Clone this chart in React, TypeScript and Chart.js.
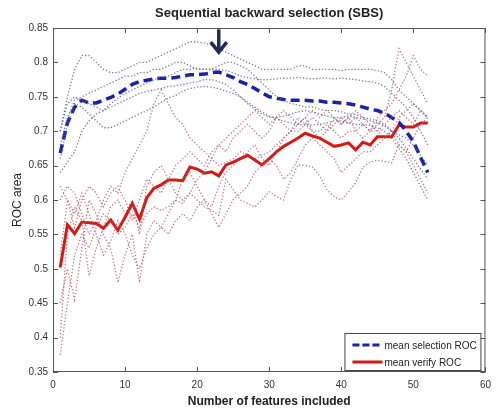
import React, { useEffect, useRef } from 'react';
import { Chart, registerables } from 'chart.js';

Chart.register(...registerables);

const features = [1, 2, 3, 4, 5, 6, 7, 8, 9, 10, 11, 12, 13, 14, 15, 16, 17, 18, 19, 20, 21, 22, 23, 24, 25, 26, 27, 28, 29, 30, 31, 32, 33, 34, 35, 36, 37, 38, 39, 40, 41, 42, 43, 44, 45, 46, 47, 48, 49, 50, 51, 52];

const meanSelection = [0.668, 0.712, 0.735, 0.745, 0.741, 0.741, 0.745, 0.749, 0.754, 0.761, 0.768, 0.772, 0.774, 0.776, 0.777, 0.777, 0.778, 0.78, 0.782, 0.782, 0.783, 0.785, 0.786, 0.782, 0.778, 0.772, 0.768, 0.762, 0.756, 0.75, 0.748, 0.746, 0.745, 0.745, 0.745, 0.744, 0.744, 0.742, 0.742, 0.741, 0.74, 0.738, 0.735, 0.732, 0.73, 0.726, 0.72, 0.713, 0.7, 0.685, 0.662, 0.64];

const meanVerify = [0.502, 0.564, 0.551, 0.568, 0.567, 0.566, 0.559, 0.571, 0.556, 0.575, 0.595, 0.572, 0.603, 0.617, 0.622, 0.629, 0.629, 0.628, 0.648, 0.645, 0.639, 0.641, 0.635, 0.651, 0.655, 0.66, 0.665, 0.658, 0.651, 0.66, 0.67, 0.678, 0.684, 0.69, 0.697, 0.693, 0.69, 0.684, 0.678, 0.68, 0.683, 0.673, 0.684, 0.68, 0.692, 0.692, 0.692, 0.709, 0.706, 0.706, 0.712, 0.712];

const selection1 = [0.7, 0.75, 0.79, 0.81, 0.81, 0.8, 0.79, 0.785, 0.785, 0.79, 0.795, 0.8, 0.8, 0.805, 0.81, 0.815, 0.82, 0.825, 0.83, 0.83, 0.828, 0.825, 0.82, 0.815, 0.81, 0.805, 0.8, 0.795, 0.79, 0.79, 0.79, 0.79, 0.79, 0.795, 0.795, 0.79, 0.79, 0.79, 0.79, 0.788, 0.79, 0.79, 0.79, 0.79, 0.788, 0.785, 0.775, 0.76, 0.75, 0.74, 0.73, 0.72];
const selection2 = [0.68, 0.72, 0.745, 0.75, 0.755, 0.76, 0.765, 0.77, 0.775, 0.78, 0.78, 0.785, 0.785, 0.79, 0.79, 0.795, 0.8, 0.8, 0.795, 0.79, 0.79, 0.79, 0.79, 0.788, 0.785, 0.78, 0.778, 0.776, 0.775, 0.775, 0.776, 0.777, 0.777, 0.778, 0.777, 0.776, 0.777, 0.777, 0.776, 0.777, 0.776, 0.775, 0.773, 0.772, 0.77, 0.765, 0.755, 0.745, 0.735, 0.72, 0.7, 0.68];
const selection3 = [0.66, 0.71, 0.74, 0.735, 0.725, 0.715, 0.705, 0.705, 0.71, 0.715, 0.72, 0.725, 0.73, 0.735, 0.742, 0.748, 0.752, 0.758, 0.762, 0.764, 0.765, 0.764, 0.762, 0.758, 0.755, 0.75, 0.742, 0.735, 0.728, 0.722, 0.718, 0.715, 0.712, 0.71, 0.709, 0.709, 0.71, 0.712, 0.715, 0.715, 0.712, 0.71, 0.71, 0.708, 0.705, 0.7, 0.69, 0.675, 0.66, 0.64, 0.62, 0.6];
const selection4 = [0.64, 0.655, 0.67, 0.7, 0.715, 0.725, 0.73, 0.74, 0.748, 0.755, 0.76, 0.765, 0.77, 0.775, 0.778, 0.78, 0.785, 0.79, 0.79, 0.792, 0.79, 0.79, 0.795, 0.8, 0.8, 0.795, 0.79, 0.78, 0.77, 0.76, 0.75, 0.745, 0.74, 0.738, 0.735, 0.735, 0.732, 0.73, 0.73, 0.728, 0.725, 0.724, 0.72, 0.718, 0.715, 0.71, 0.7, 0.69, 0.675, 0.66, 0.645, 0.63];
const selection5 = [0.7, 0.74, 0.75, 0.745, 0.74, 0.735, 0.73, 0.735, 0.74, 0.745, 0.75, 0.755, 0.758, 0.76, 0.762, 0.765, 0.766, 0.768, 0.77, 0.772, 0.775, 0.775, 0.772, 0.768, 0.76, 0.75, 0.74, 0.732, 0.725, 0.72, 0.72, 0.722, 0.725, 0.728, 0.73, 0.728, 0.725, 0.722, 0.72, 0.72, 0.722, 0.72, 0.718, 0.715, 0.712, 0.708, 0.7, 0.695, 0.69, 0.68, 0.665, 0.65];

const verify1 = [0.375, 0.45, 0.52, 0.55, 0.53, 0.56, 0.58, 0.57, 0.55, 0.56, 0.58, 0.56, 0.58, 0.59, 0.585, 0.59, 0.6, 0.595, 0.61, 0.6, 0.59, 0.585, 0.578, 0.63, 0.615, 0.6, 0.595, 0.59, 0.6, 0.612, 0.605, 0.6, 0.63, 0.651, 0.65, 0.648, 0.635, 0.615, 0.605, 0.6, 0.612, 0.625, 0.648, 0.655, 0.658, 0.656, 0.654, 0.68, 0.67, 0.65, 0.63, 0.61];
const verify2 = [0.45, 0.5, 0.455, 0.53, 0.6, 0.58, 0.55, 0.53, 0.48, 0.52, 0.55, 0.48, 0.55, 0.57, 0.56, 0.58, 0.6, 0.63, 0.64, 0.62, 0.6, 0.59, 0.62, 0.64, 0.65, 0.66, 0.67, 0.68, 0.66, 0.65, 0.67, 0.69, 0.7, 0.7, 0.71, 0.7, 0.7, 0.71, 0.7, 0.69, 0.7, 0.7, 0.71, 0.7, 0.7, 0.71, 0.72, 0.73, 0.72, 0.71, 0.73, 0.72];
const verify3 = [0.6, 0.62, 0.61, 0.58, 0.55, 0.57, 0.6, 0.62, 0.61, 0.64, 0.66, 0.68, 0.7, 0.74, 0.76, 0.74, 0.72, 0.71, 0.69, 0.68, 0.67, 0.66, 0.65, 0.655, 0.66, 0.67, 0.665, 0.66, 0.665, 0.67, 0.68, 0.69, 0.7, 0.71, 0.72, 0.7, 0.69, 0.7, 0.71, 0.72, 0.71, 0.72, 0.71, 0.7, 0.71, 0.72, 0.76, 0.82, 0.8, 0.78, 0.76, 0.74];
const verify4 = [0.4, 0.55, 0.59, 0.57, 0.49, 0.53, 0.56, 0.59, 0.6, 0.58, 0.6, 0.55, 0.62, 0.64, 0.65, 0.63, 0.61, 0.6, 0.61, 0.63, 0.64, 0.66, 0.68, 0.67, 0.69, 0.7, 0.71, 0.7, 0.69, 0.7, 0.72, 0.71, 0.7, 0.72, 0.71, 0.72, 0.71, 0.7, 0.72, 0.71, 0.72, 0.7, 0.69, 0.7, 0.72, 0.73, 0.74, 0.76, 0.78, 0.81, 0.79, 0.78];
const verify5 = [0.52, 0.6, 0.58, 0.61, 0.58, 0.55, 0.52, 0.54, 0.57, 0.55, 0.52, 0.5, 0.53, 0.55, 0.56, 0.55, 0.57, 0.58, 0.57, 0.59, 0.6, 0.58, 0.56, 0.58, 0.6, 0.61, 0.62, 0.64, 0.65, 0.66, 0.65, 0.63, 0.64, 0.66, 0.68, 0.69, 0.68, 0.67, 0.66, 0.64, 0.65, 0.66, 0.67, 0.67, 0.68, 0.69, 0.7, 0.72, 0.73, 0.74, 0.73, 0.72];
const verify6 = [0.62, 0.6, 0.56, 0.6, 0.62, 0.61, 0.59, 0.61, 0.62, 0.6, 0.57, 0.6, 0.63, 0.62, 0.61, 0.63, 0.65, 0.66, 0.67, 0.66, 0.65, 0.67, 0.68, 0.69, 0.7, 0.71, 0.72, 0.73, 0.72, 0.71, 0.72, 0.73, 0.72, 0.71, 0.72, 0.73, 0.72, 0.73, 0.72, 0.71, 0.72, 0.73, 0.72, 0.71, 0.7, 0.69, 0.7, 0.68, 0.67, 0.69, 0.71, 0.72];

const selectionFolds = [selection1, selection2, selection3, selection4, selection5];
const verifyFolds = [verify1, verify2, verify3, verify4, verify5, verify6];

const xTicks = [0, 10, 20, 30, 40, 50, 60];
const yTicks = [0.35, 0.4, 0.45, 0.5, 0.55, 0.6, 0.65, 0.7, 0.75, 0.8, 0.85];

const titleText = 'Sequential backward selection (SBS)';
const xTitle = 'Number of features included';
const yTitle = 'ROC area';
const legendLabels = ['mean selection ROC', 'mean verify ROC'];
const arrowFeature = 23;
const arrowTop = 0.848;
const arrowTip = 0.812;

const FONT = '"Liberation Sans", Arial, Helvetica, sans-serif';
const BLUE = '#1c22a6';
const RED = '#d41a14';

const toPoints = (vals: number[]) => vals.map((v, i) => ({ x: features[i], y: v }));

const decor = {
  id: 'decor',
  afterDraw(chart: any) {
    const { ctx, chartArea: a, scales } = chart;
    const xs = scales.x;
    const ys = scales.y;
    ctx.save();
    ctx.strokeStyle = '#555';
    ctx.lineWidth = 1;
    ctx.strokeRect(a.left + 0.5, a.top + 0.5, a.right - a.left - 1, a.bottom - a.top - 1);
    ctx.beginPath();
    xTicks.forEach((t) => {
      const px = Math.round(xs.getPixelForValue(t)) + 0.5;
      ctx.moveTo(px, a.bottom);
      ctx.lineTo(px, a.bottom - 5);
      ctx.moveTo(px, a.top);
      ctx.lineTo(px, a.top + 5);
    });
    yTicks.forEach((t) => {
      const py = Math.round(ys.getPixelForValue(t)) + 0.5;
      ctx.moveTo(a.left, py);
      ctx.lineTo(a.left + 5, py);
      ctx.moveTo(a.right, py);
      ctx.lineTo(a.right - 5, py);
    });
    ctx.stroke();

    ctx.fillStyle = '#222';
    ctx.textAlign = 'center';
    ctx.textBaseline = 'middle';
    ctx.font = `bold 13px ${FONT}`;
    ctx.fillText(titleText, (a.left + a.right) / 2, 13);
    ctx.font = `bold 12px ${FONT}`;
    ctx.fillText(xTitle, (a.left + a.right) / 2, 402);
    ctx.save();
    ctx.translate(18, (a.top + a.bottom) / 2);
    ctx.rotate(-Math.PI / 2);
    ctx.font = `12px ${FONT}`;
    ctx.fillText(yTitle, 0, 0);
    ctx.restore();

    const ax = xs.getPixelForValue(arrowFeature);
    const ay0 = ys.getPixelForValue(arrowTop);
    const ay1 = ys.getPixelForValue(arrowTip);
    ctx.strokeStyle = '#1b2d52';
    ctx.lineWidth = 3.5;
    ctx.lineCap = 'butt';
    ctx.lineJoin = 'miter';
    ctx.beginPath();
    ctx.moveTo(ax, ay0);
    ctx.lineTo(ax, ay1 - 2);
    ctx.stroke();
    ctx.beginPath();
    ctx.moveTo(ax - 8, ay1 - 12);
    ctx.lineTo(ax, ay1 - 2);
    ctx.lineTo(ax + 8, ay1 - 12);
    ctx.stroke();

    const lw = 136;
    const lh = 37;
    const lx = a.right - 5 - lw;
    const ly = a.bottom - 2 - lh;
    ctx.fillStyle = '#fff';
    ctx.fillRect(lx, ly, lw, lh);
    ctx.strokeStyle = '#444';
    ctx.lineWidth = 1;
    ctx.strokeRect(lx + 0.5, ly + 0.5, lw, lh);
    const colors = [BLUE, RED];
    legendLabels.forEach((label, i) => {
      const yy = ly + 12 + i * 17;
      ctx.strokeStyle = colors[i];
      ctx.lineWidth = 3;
      ctx.setLineDash(i === 0 ? [7, 3] : []);
      ctx.beginPath();
      ctx.moveTo(lx + 8, yy);
      ctx.lineTo(lx + 38, yy);
      ctx.stroke();
      ctx.setLineDash([]);
      ctx.fillStyle = '#222';
      ctx.textAlign = 'left';
      ctx.font = `10px ${FONT}`;
      ctx.fillText(label, lx + 40, yy + 1);
    });
    ctx.restore();
  },
};

export default function App() {
  const ref = useRef<HTMLCanvasElement | null>(null);
  useEffect(() => {
    if (!ref.current) return;
    const datasets: any[] = [];
    selectionFolds.forEach((s) =>
      datasets.push({
        data: toPoints(s),
        borderColor: 'rgba(95,95,160,0.85)',
        borderWidth: 1.3,
        borderDash: [1.3, 2],
        pointRadius: 0,
        fill: false,
      })
    );
    verifyFolds.forEach((s) =>
      datasets.push({
        data: toPoints(s),
        borderColor: 'rgba(170,90,100,0.8)',
        borderWidth: 1.3,
        borderDash: [1.3, 2],
        pointRadius: 0,
        fill: false,
      })
    );
    datasets.push({
      label: legendLabels[0],
      data: toPoints(meanSelection),
      borderColor: BLUE,
      borderWidth: 3.5,
      borderDash: [9, 5],
      pointRadius: 0,
      fill: false,
    });
    datasets.push({
      label: legendLabels[1],
      data: toPoints(meanVerify),
      borderColor: RED,
      borderWidth: 3,
      pointRadius: 0,
      fill: false,
    });

    const chart = new Chart(ref.current, {
      type: 'line',
      data: { datasets },
      plugins: [decor],
      options: {
        animation: false,
        responsive: false,
        devicePixelRatio: 1,
        layout: { padding: { top: 28, right: 7, left: 0, bottom: 0 } },
        plugins: { legend: { display: false }, title: { display: false }, tooltip: { enabled: false } },
        scales: {
          x: {
            type: 'linear',
            min: 0,
            max: 60,
            grid: { display: false, drawTicks: false },
            border: { display: false },
            afterBuildTicks: (s: any) => {
              s.ticks = xTicks.map((v) => ({ value: v }));
            },
            afterFit: (s: any) => {
              s.height = 40;
            },
            ticks: {
              padding: 7,
              maxRotation: 0,
              color: '#333',
              font: { family: FONT, size: 10 },
              callback: (v: any) => String(v),
            },
          },
          y: {
            type: 'linear',
            min: 0.35,
            max: 0.85,
            grid: { display: false, drawTicks: false },
            border: { display: false },
            afterBuildTicks: (s: any) => {
              s.ticks = yTicks.map((v) => ({ value: v }));
            },
            afterFit: (s: any) => {
              s.width = 53;
            },
            ticks: {
              padding: 5,
              color: '#333',
              font: { family: FONT, size: 10 },
              callback: (v: any) => String(parseFloat(Number(v).toFixed(2))),
            },
          },
        },
      },
    });
    return () => chart.destroy();
  }, []);

  return (
    <div style={{ position: 'absolute', left: 0, top: 0, width: 498, height: 412, background: '#fff' }}>
      <canvas ref={ref} width={498} height={412} />
    </div>
  );
}
